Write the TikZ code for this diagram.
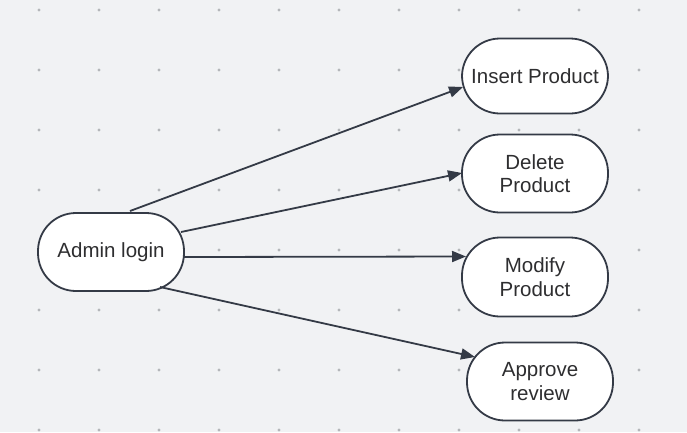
\documentclass[tikz,border=0pt]{standalone}
\usepackage{fontspec}
\setmainfont{Liberation Sans}
\usetikzlibrary{calc,arrows.meta}
\definecolor{bgc}{HTML}{F1F2F4}
\definecolor{dotc}{HTML}{B4B6BA}
\definecolor{linec}{HTML}{343A46}
\definecolor{txtc}{HTML}{2E2E30}
\tikzset{
  pill/.style={draw=linec, line width=1.8pt, fill=white, rounded corners=38pt,
    minimum width=146pt, minimum height=78pt, inner sep=0pt, align=center,
    text=txtc, font=\fontsize{20.5}{23.5}\selectfont},
  edge/.style={draw=linec, line width=1.8pt, -{Triangle[length=14pt,width=11pt]}}
}
\begin{document}
\begin{tikzpicture}[x=1pt,y=-1pt]
\fill[bgc] (0,0) rectangle (687,432);
\useasboundingbox (0,0) rectangle (687,432);
\foreach \i in {0,...,10}{
  \foreach \j in {0,...,7}{
    \fill[dotc] ({39+60*\i},{10+60*\j}) circle (1.6pt);
  }
}
\node[pill] (a) at (111,252) {Admin login};
\node[pill, minimum height=75pt] (i) at (535,76) {Insert Product};
\node[pill] (d) at (535,173.5) {Delete\\Product};
\node[pill, minimum height=79pt] (m) at (535,277) {Modify\\Product};
\node[pill] (r) at (540,381.5) {Approve\\review};
\draw[edge] ($(a.center)+(19,-41)$) -- ($(i.center)+(-72,11)$);
\draw[edge] ($(a.center)+(70,-20)$) -- ($(d.center)+(-73,-0.5)$);
\draw[edge] ($(a.center)+(73,5)$) -- ($(m.center)+(-69,-20.5)$);
\draw[edge] ($(a.center)+(49,35)$) -- ($(r.center)+(-65,-24.5)$);
\end{tikzpicture}
\end{document}
